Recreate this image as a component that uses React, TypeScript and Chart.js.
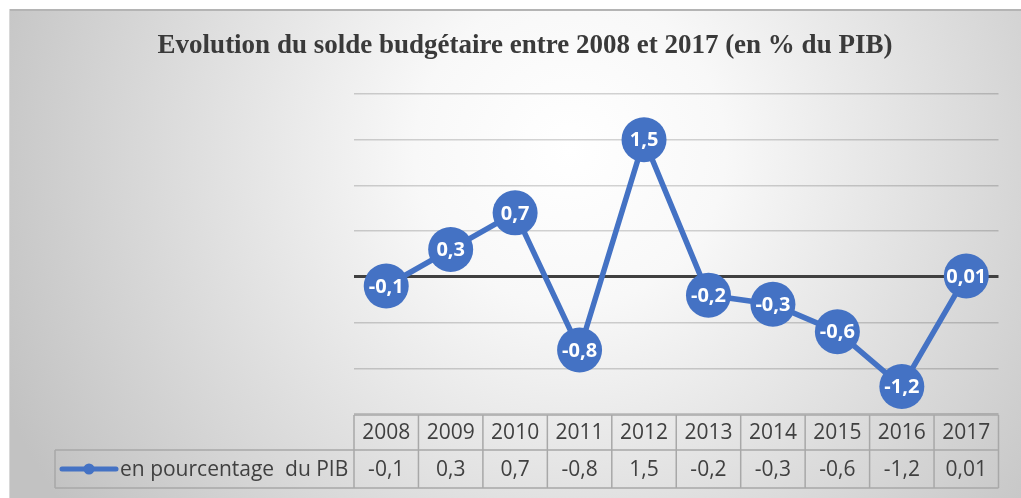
import React, { useEffect, useRef } from "react";
import { Chart, registerables } from "chart.js";

Chart.register(...registerables);

const TITLE = "Evolution du solde budgétaire entre 2008 et 2017 (en % du PIB)";
const SERIES_NAME = "en pourcentage  du PIB";
const YEARS = ["2008", "2009", "2010", "2011", "2012", "2013", "2014", "2015", "2016", "2017"];
const VALUES = [-0.1, 0.3, 0.7, -0.8, 1.5, -0.2, -0.3, -0.6, -1.2, 0.01];
const Y_MIN = -1.5;
const Y_MAX = 2;
const Y_STEP = 0.5;

const BLUE = "#4472C4";
const TEXT = "#404040";
const W = 1021;
const H = 498;

const fmt = (v: number) => String(v).replace(".", ",");

const backgroundPlugin = {
  id: "bg",
  beforeDraw(chart: any) {
    const ctx = chart.ctx;
    ctx.save();
    ctx.fillStyle = "#ffffff";
    ctx.fillRect(0, 0, W, H);
    const g = ctx.createRadialGradient(570, 150, 0, 570, 150, 620);
    g.addColorStop(0, "#ffffff");
    g.addColorStop(0.25, "#f8f8f8");
    g.addColorStop(1, "#c2c2c2");
    ctx.fillStyle = g;
    ctx.fillRect(9, 9, W - 9, H - 9);
    ctx.fillStyle = "#b4b4b4";
    ctx.fillRect(9, 9, W - 9, 2);
    ctx.fillStyle = "#d8d8d8";
    ctx.fillRect(9, 9, 1, H - 9);
    // title
    ctx.fillStyle = "#3a3a3a";
    ctx.font = "bold 27px 'Liberation Serif', 'Times New Roman', serif";
    ctx.textAlign = "center";
    ctx.textBaseline = "alphabetic";
    ctx.fillText(TITLE, 525, 53);
    ctx.restore();
  },
};

const labelPlugin = {
  id: "pointLabels",
  afterDatasetsDraw(chart: any) {
    const ctx = chart.ctx;
    const meta = chart.getDatasetMeta(0);
    ctx.save();
    ctx.fillStyle = "#ffffff";
    ctx.font = "bold 20px 'Open Sans', sans-serif";
    ctx.textAlign = "center";
    ctx.textBaseline = "middle";
    meta.data.forEach((pt: any, i: number) => {
      ctx.fillText(fmt(VALUES[i]), pt.x, pt.y + 1);
    });
    ctx.restore();
  },
};

const tablePlugin = {
  id: "dataTable",
  afterDraw(chart: any) {
    const ctx = chart.ctx;
    const xs = chart.scales.x;
    const area = chart.chartArea;
    const colW = (area.right - area.left) / YEARS.length;
    const top = area.bottom + 1;
    const mid = top + 35;
    const bot = mid + 38;
    const legendLeft = 55;
    ctx.save();
    ctx.strokeStyle = "#a8a8a8";
    ctx.lineWidth = 1.5;
    ctx.beginPath();
    ctx.moveTo(area.left, top);
    ctx.lineTo(area.right, top);
    ctx.moveTo(legendLeft, mid);
    ctx.lineTo(area.right, mid);
    ctx.moveTo(legendLeft, bot);
    ctx.lineTo(area.right, bot);
    ctx.moveTo(legendLeft, mid);
    ctx.lineTo(legendLeft, bot);
    for (let i = 0; i <= YEARS.length; i++) {
      const x = area.left + i * colW;
      ctx.moveTo(x, top);
      ctx.lineTo(x, bot);
    }
    ctx.stroke();

    ctx.fillStyle = TEXT;
    ctx.font = "21px 'Open Sans', sans-serif";
    ctx.textAlign = "center";
    ctx.textBaseline = "middle";
    YEARS.forEach((y, i) => {
      const cx = xs.getPixelForValue(i);
      ctx.fillText(y, cx, (top + mid) / 2 + 1);
      ctx.fillText(fmt(VALUES[i]), cx, (mid + bot) / 2 + 1);
    });

    // legend key
    const ly = (mid + bot) / 2;
    ctx.strokeStyle = BLUE;
    ctx.lineWidth = 5;
    ctx.lineCap = "round";
    ctx.beginPath();
    ctx.moveTo(62, ly);
    ctx.lineTo(116, ly);
    ctx.stroke();
    ctx.fillStyle = BLUE;
    ctx.beginPath();
    ctx.arc(89, ly, 5.5, 0, Math.PI * 2);
    ctx.fill();
    ctx.fillStyle = TEXT;
    ctx.textAlign = "left";
    ctx.fillText(SERIES_NAME, 120, ly + 1);
    ctx.restore();
  },
};

export default function App() {
  const ref = useRef<HTMLCanvasElement | null>(null);
  useEffect(() => {
    if (!ref.current) return;
    const chart = new Chart(ref.current, {
      type: "line",
      data: {
        labels: YEARS,
        datasets: [
          {
            label: SERIES_NAME,
            data: VALUES,
            borderColor: BLUE,
            backgroundColor: BLUE,
            borderWidth: 5.5,
            pointRadius: 22.5,
            pointHoverRadius: 22.5,
            pointBorderWidth: 0,
            pointBackgroundColor: BLUE,
            tension: 0,
            clip: false,
          } as any,
        ],
      },
      options: {
        animation: false,
        responsive: false,
        devicePixelRatio: 1,
        layout: { padding: { left: 354, right: 18, top: 94, bottom: 84 } },
        plugins: {
          legend: { display: false },
          title: { display: false },
          tooltip: { enabled: false },
        },
        scales: {
          x: {
            type: "category",
            offset: true,
            display: false,
          },
          y: {
            min: Y_MIN,
            max: Y_MAX,
            ticks: { display: false, stepSize: Y_STEP },
            border: { display: false },
            afterFit: (s: any) => {
              s.width = 0;
            },
            grid: {
              drawTicks: false,
              color: (c: any) => (c.tick && c.tick.value === 0 ? "#404040" : "rgba(0,0,0,0.17)"),
              lineWidth: (c: any) => (c.tick && c.tick.value === 0 ? 3 : 1.5),
            },
          } as any,
        },
      },
      plugins: [backgroundPlugin, labelPlugin, tablePlugin],
    });
    return () => chart.destroy();
  }, []);
  return (
    <div style={{ position: "fixed", left: 0, top: 0, width: W, height: H }}>
      <canvas ref={ref} width={W} height={H} style={{ display: "block" }} />
    </div>
  );
}
